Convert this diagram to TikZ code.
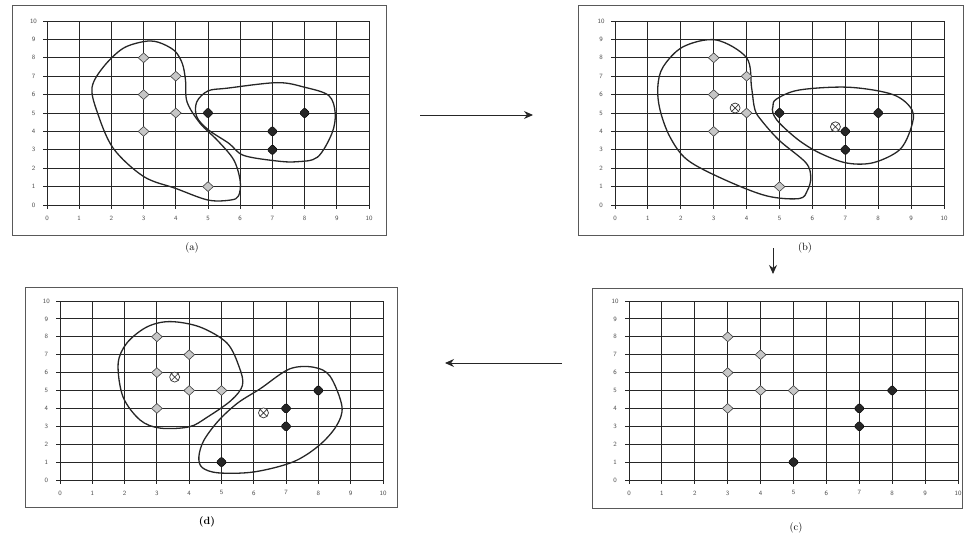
\documentclass[tikz,border=0pt]{standalone}
\usetikzlibrary{shapes.geometric,arrows.meta}
\newcommand\panelgrid[1]{%
  \foreach \k in {0,...,10}{
    \draw[gridline] (-0.12,\k) -- (10,\k);
    \draw[gridline] (\k,-0.2) -- (\k,10);
    \node[ticklab] (#1y\k) at (-0.42,\k) {\k};
    \node[ticklab] (#1x\k) at (\k,-0.72) {\k};
  }%
}
\newcommand\panelmarks[3]{%
  \foreach \px/\py [count=\n] in {#2} \node[lightpt] (#1l\n) at (\px,\py) {};
  \foreach \px/\py [count=\n] in {#3} \node[darkpt] (#1d\n) at (\px,\py) {};
}
\begin{document}
\begin{tikzpicture}[x=1pt,y=-1pt,
  gridline/.style={black!85,line width=0.9pt},
  framebox/.style={draw=black!65,line width=0.9pt,inner sep=0pt,anchor=north west},
  ticklab/.style={font=\sffamily\fontsize{6.5}{7}\selectfont,text=black!70,inner sep=0pt},
  plab/.style={font=\fontsize{10.5}{12}\selectfont,inner sep=0pt},
  lightpt/.style={diamond,draw=black!75,fill=black!22,line width=0.6pt,minimum width=11pt,minimum height=10pt,inner sep=0pt},
  darkpt/.style={diamond,rounded corners=1.5pt,draw=black,fill=black!85,minimum width=11pt,minimum height=11pt,inner sep=0pt},
  centpt/.style={circle,draw=black!80,fill=white,line width=0.7pt,minimum size=10pt,inner sep=0pt,
    path picture={\draw[black!80,line width=0.7pt] (path picture bounding box.north west)--(path picture bounding box.south east) (path picture bounding box.north east)--(path picture bounding box.south west);}},
  blob/.style={black!85,line width=1.3pt},
  flow/.style={black!85,line width=0.9pt,-{Stealth[length=9pt,width=8pt]}}]
\useasboundingbox (0,0) rectangle (966,539);

% ---------- panel (a)
\node[framebox,minimum width=374pt,minimum height=230pt] (fa) at (12,5) {};
\begin{scope}[shift={(47,205)},x=32.2pt,y=18.4pt]
  \panelgrid{a}
  \draw[blob] plot[smooth cycle,tension=0.55] coordinates {(3,8.88) (3.45,8.85) (3.95,8.4) (4.2,7.7) (4.3,6.8) (4.35,5.6) (4.75,4.45) (5.3,3.5) (5.8,2.45) (6.0,1.3) (5.95,0.5) (5.7,0.27) (5.0,0.27) (4.0,0.9) (3.0,1.55) (2.05,3.1) (1.55,5.1) (1.4,6.4) (1.75,7.5) (2.35,8.5)};
  \draw[blob] plot[smooth cycle,tension=0.55] coordinates {(4.65,5.6) (5.0,6.2) (5.6,6.35) (7.15,6.65) (8.0,6.4) (8.75,5.95) (8.95,5.0) (8.85,3.9) (8.4,2.6) (7.75,2.35) (7.1,2.4) (6.1,2.7) (5.65,3.35) (5.0,4.1) (4.65,4.8)};
  \panelmarks{a}{3/8,4/7,3/6,4/5,3/4,5/1}{5/5,7/4,7/3,8/5}
\end{scope}
\node[plab] (la) at (192,248) {(a)};

% ---------- panel (b)
\node[framebox,minimum width=385pt,minimum height=230pt] (fb) at (578,5) {};
\begin{scope}[shift={(615,205)},x=32.9pt,y=18.4pt]
  \panelgrid{b}
  \draw[blob] plot[smooth cycle,tension=0.55] coordinates {(3.07,8.97) (4.0,8.0) (4.15,6.4) (4.25,5.2) (4.45,4.6) (5.0,3.5) (5.8,2.3) (5.95,1.5) (5.85,0.8) (5.6,0.35) (4.6,0.5) (3.3,1.4) (2.2,2.45) (1.67,3.7) (1.37,5.16) (1.3,6.4) (1.46,7.5) (2.07,8.6)};
  \draw[blob] plot[smooth cycle,tension=0.55] coordinates {(4.8,5.35) (4.9,5.75) (5.6,6.25) (7.1,6.4) (8.45,6.0) (9.03,5.16) (9.0,4.2) (8.65,3.0) (7.85,2.3) (7.05,2.28) (6.25,2.8) (5.6,3.5) (5.0,4.45) (4.8,5.0)};
  \panelmarks{b}{3/8,4/7,3/6,4/5,3/4,5/1}{5/5,7/4,7/3,8/5}
  \node[centpt] (bc1) at (3.65,5.27) {};
  \node[centpt] (bc2) at (6.7,4.25) {};
\end{scope}
\node[plab] (lb) at (805,248) {(b)};

% ---------- panel (c)
\node[framebox,minimum width=370pt,minimum height=220pt] (fc) at (592,288) {};
\begin{scope}[shift={(629,480)},x=32.9pt,y=17.9pt]
  \panelgrid{c}
  \panelmarks{c}{3/8,4/7,3/6,4/5,5/5,3/4}{8/5,7/4,7/3,5/1}
\end{scope}
\node[plab] (lc) at (796,528) {(c)};

% ---------- panel (d)
\node[framebox,minimum width=372pt,minimum height=220pt] (fd) at (25,287) {};
\begin{scope}[shift={(60,480)},x=32.3pt,y=17.9pt]
  \panelgrid{d}
  \draw[blob] plot[smooth cycle,tension=0.55] coordinates {(3.4,8.85) (4.33,8.55) (5.17,7.65) (5.55,6.3) (5.65,5.3) (5.3,4.45) (4.55,3.5) (4.0,2.97) (3.1,2.9) (2.48,3.35) (1.95,4.65) (1.8,6.5) (2.07,7.65) (2.69,8.55)};
  \draw[blob] plot[smooth cycle,tension=0.55] coordinates {(7.85,6.3) (8.36,5.8) (8.73,4.1) (8.55,3.0) (8.0,1.9) (7.2,1.0) (6.0,0.45) (4.9,0.4) (4.4,0.7) (4.3,1.3) (4.45,2.2) (4.9,3.3) (5.5,4.3) (6.2,5.1) (7.1,6.2)};
  \panelmarks{d}{3/8,4/7,3/6,4/5,5/5,3/4}{8/5,7/4,7/3,5/1}
  \node[centpt] (dc1) at (3.55,5.75) {};
  \node[centpt] (dc2) at (6.3,3.75) {};
\end{scope}
\node[plab,font=\bfseries\fontsize{10.5}{12}\selectfont] (ld) at (207,522) {(d)};

% ---------- arrows
\coordinate (ab1) at (420,115);
\coordinate (ab2) at (533,115);
\coordinate (bc1a) at (773,248);
\coordinate (bc2a) at (773,274);
\coordinate (cd1) at (562,363);
\coordinate (cd2) at (445,363);
\draw[flow] (ab1) -- (ab2);
\draw[flow] (bc1a) -- (bc2a);
\draw[flow] (cd1) -- (cd2);
\end{tikzpicture}
\end{document}
